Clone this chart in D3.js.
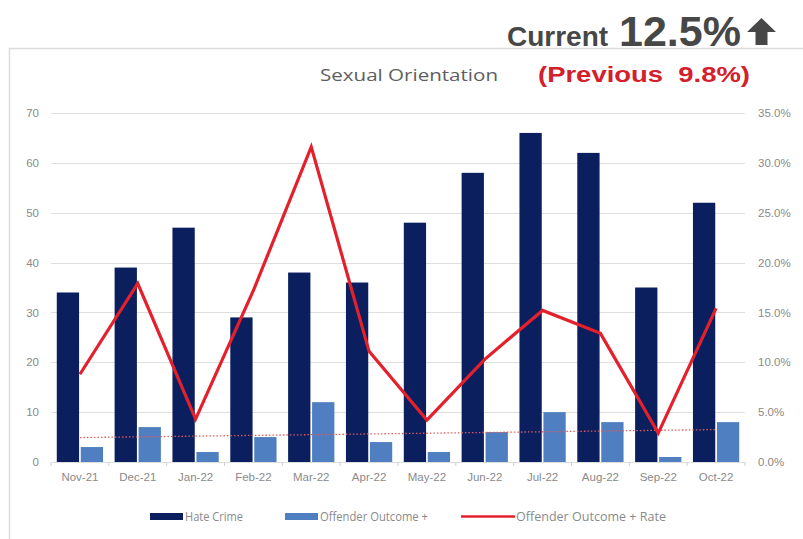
<!DOCTYPE html>
<html><head><meta charset="utf-8">
<script src="https://cdn.jsdelivr.net/npm/d3@7"></script>
<style>body{margin:0;background:#fff;}svg{display:block;font-family:"Open Sans","Liberation Sans",Arial,sans-serif;}</style>
</head><body>
<svg id="c" width="803" height="539"></svg>
<script>
const months = ["Nov-21","Dec-21","Jan-22","Feb-22","Mar-22","Apr-22","May-22","Jun-22","Jul-22","Aug-22","Sep-22","Oct-22"];
const hateCrime = [34,39,47,29,38,36,48,58,66,62,35,52];
const outcome = [3,7,2,5,12,4,2,6,10,8,1,8];
const rate = [0.088,0.179,0.043,0.172,0.316,0.111,0.042,0.103,0.152,0.129,0.029,0.154];
const trendEnds = [0.0245,0.0325];
const leftTicks = [0,10,20,30,40,50,60,70];
const rightTicks = [0,0.05,0.10,0.15,0.20,0.25,0.30,0.35];
const seriesNames = ["Hate Crime","Offender Outcome +","Offender Outcome + Rate"];

const svg = d3.select("#c");
const navy = "#0b1f5e", light = "#4f7fc0", red = "#e3202b", grid = "#dedede", txt = "#8a8a8a";

// frame
svg.append("rect").attr("x",9.5).attr("y",48.5).attr("width",820).attr("height",520)
  .attr("fill","none").attr("stroke","#dcdcdc").attr("stroke-width",1.5);

const x = d3.scaleBand().domain(months).range([51,745]);
const xs = d3.scaleBand().domain([0,1]).range([x.bandwidth()*0.1, x.bandwidth()*0.9]).paddingInner(0.07);
const y = d3.scaleLinear().domain([0,70]).range([462,113]);
const y2 = d3.scaleLinear().domain([0,0.35]).range([462,113]);

// gridlines
svg.append("g").selectAll("line").data(leftTicks).join("line")
  .attr("x1",51).attr("x2",745).attr("y1",d=>Math.round(y(d))+0.5).attr("y2",d=>Math.round(y(d))+0.5)
  .attr("stroke",grid).attr("stroke-width",1);

// category tick marks
svg.append("g").selectAll("line").data(months.concat(["end"])).join("line")
  .attr("x1",(d,i)=>51+i*x.step()).attr("x2",(d,i)=>51+i*x.step())
  .attr("y1",462).attr("y2",466).attr("stroke","#d0d0d0");

// left axis
const ya = svg.append("g").attr("transform","translate(39,0)").call(d3.axisLeft(y).tickValues(leftTicks).tickSize(0).tickPadding(0));
ya.select(".domain").remove();
ya.selectAll("text").attr("fill",txt).style("font-size","11.5px");
// right axis
const yb = svg.append("g").attr("transform","translate(758,0)").call(d3.axisRight(y2).tickValues(rightTicks).tickSize(0).tickPadding(0).tickFormat(d3.format(".1%")));
yb.select(".domain").remove();
yb.selectAll("text").attr("fill",txt).style("font-size","11.5px");
// x axis
const xa = svg.append("g").attr("transform","translate(0,471)").call(d3.axisBottom(x).tickSize(0).tickPadding(0));
xa.select(".domain").remove();
xa.selectAll("text").attr("fill",txt).style("font-size","11.5px").attr("dy","0.9em");

// bars
const g = svg.append("g");
g.selectAll("rect.h").data(hateCrime).join("rect").attr("class","h")
  .attr("x",(d,i)=>x(months[i])+xs(0)).attr("width",xs.bandwidth())
  .attr("y",d=>y(d)).attr("height",d=>y(0)-y(d)).attr("fill",navy);
g.selectAll("rect.o").data(outcome).join("rect").attr("class","o")
  .attr("x",(d,i)=>x(months[i])+xs(1)).attr("width",xs.bandwidth())
  .attr("y",d=>y(d)).attr("height",d=>y(0)-y(d)).attr("fill",light);

// trend dotted
const cx = m => x(m)+x.bandwidth()/2;
svg.append("line").attr("x1",cx(months[0])).attr("x2",cx(months[months.length-1]))
  .attr("y1",y2(trendEnds[0])).attr("y2",y2(trendEnds[1]))
  .attr("stroke","#e05a5a").attr("stroke-width",1.3).attr("stroke-dasharray","1.5,2");

// rate line
svg.append("path").datum(rate)
  .attr("d",d3.line().x((d,i)=>cx(months[i])).y(d=>y2(d)))
  .attr("fill","none").attr("stroke",red).attr("stroke-width",3.2).attr("stroke-linejoin","miter");

// titles
svg.append("text").attr("x",320).attr("y",81)
  .attr("fill","#5e5e5e").style("font-size","16.5px").attr("textLength",178).attr("lengthAdjust","spacingAndGlyphs").text("Sexual Orientation");
svg.append("text").attr("x",538).attr("y",82)
  .attr("fill","#d4202c").style("font-family","'Liberation Sans',Arial,sans-serif").style("font-weight","bold").style("font-size","22px")
  .attr("textLength",212).attr("lengthAdjust","spacingAndGlyphs")
  .attr("xml:space","preserve").text("(Previous\u00a0\u00a09.8%)");
const cur = svg.append("text").attr("y",46).attr("fill","#474747")
  .style("font-family","'Liberation Sans',Arial,sans-serif").style("font-weight","bold");
cur.append("tspan").attr("x",507).style("font-size","28px").text("Current");
cur.append("tspan").attr("x",619).style("font-size","42px").attr("textLength",122).attr("lengthAdjust","spacingAndGlyphs").text("12.5%");
// up arrow
svg.append("path").attr("d","M761.5,18 L776,32 L767.5,32 L767.5,45 L755.5,45 L755.5,32 L747,32 Z").attr("fill","#474747");

// legend
const lg = svg.append("g").style("font-size","12px");
lg.append("rect").attr("x",150).attr("y",513).attr("width",33).attr("height",7).attr("fill",navy);
lg.append("text").attr("x",185).attr("y",521).attr("fill",txt).attr("textLength",58).attr("lengthAdjust","spacingAndGlyphs").text(seriesNames[0]);
lg.append("rect").attr("x",285).attr("y",513).attr("width",33).attr("height",7).attr("fill",light);
lg.append("text").attr("x",320).attr("y",521).attr("fill",txt).attr("textLength",108).attr("lengthAdjust","spacingAndGlyphs").text(seriesNames[1]);
lg.append("line").attr("x1",461).attr("x2",515).attr("y1",516.5).attr("y2",516.5).attr("stroke",red).attr("stroke-width",2.5);
lg.append("text").attr("x",516).attr("y",521).attr("fill",txt).attr("textLength",150).attr("lengthAdjust","spacingAndGlyphs").text(seriesNames[2]);
</script>
</body></html>
